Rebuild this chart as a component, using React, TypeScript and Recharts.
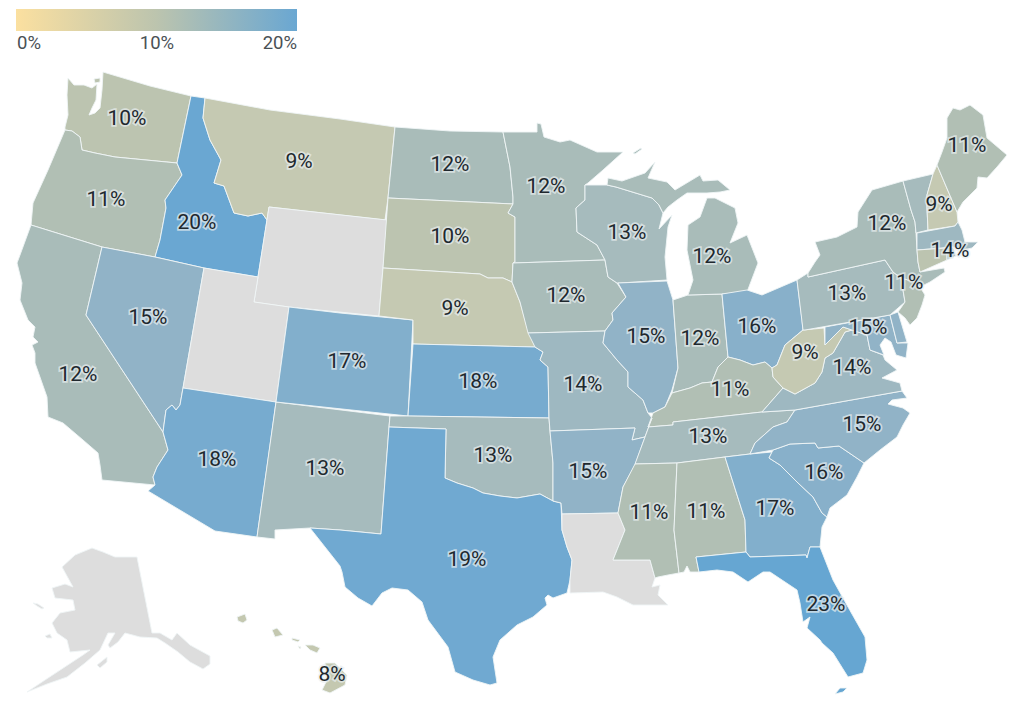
import React from "react";
import { ScatterChart, Scatter, XAxis, YAxis, ReferenceArea } from "recharts";

type Pt = [number, number];

// state outlines, in map units (same grid as the reference picture)
const WA: Pt[] = [[68,78],[74,85],[84,85],[92,88],[97,84],[96,100],[92,108],[89,115],[95,113],[100,108],[102,90],[103,72],[150,86],[191,96],[177,163],[115,157],[95,153],[82,150],[80,137],[72,131],[65,130],[65,127],[68,115],[67,95]];
const WA_ISLAND: Pt[] = [[94,79],[100,78],[100,82],[95,83]];
const OR: Pt[] = [[65,130],[72,131],[80,137],[82,150],[95,153],[115,157],[177,163],[182,175],[165,200],[166,208],[160,240],[155,257],[102,247],[31,225],[33,203],[48,170]];
const CA: Pt[] = [[31,225],[102,247],[86,315],[163,432],[168,450],[157,467],[153,477],[155,485],[102,480],[100,465],[98,453],[83,440],[63,423],[48,417],[47,397],[35,363],[35,353],[32,345],[38,342],[33,337],[35,327],[28,320],[20,300],[22,283],[17,263],[20,255]];
const ID: Pt[] = [[191,96],[205,98],[203,118],[210,140],[221,160],[214,183],[224,186],[234,213],[248,216],[262,213],[267,220],[258,277],[204,268],[155,257],[160,240],[166,208],[165,200],[182,175],[177,163]];
const NV: Pt[] = [[102,247],[155,257],[204,268],[183,388],[180,405],[176,410],[172,405],[166,410],[163,432],[86,315]];
const MT: Pt[] = [[205,98],[270,110],[340,119],[395,127],[388,198],[385,220],[269,207],[267,220],[262,213],[248,216],[234,213],[224,186],[214,183],[221,160],[210,140],[203,118]];
const WY: Pt[] = [[269,207],[387,220],[383,268],[379,316],[289,307],[254,302]];
const UT: Pt[] = [[204,268],[258,277],[254,302],[289,307],[276,402],[183,388]];
const AZ: Pt[] = [[183,388],[276,402],[268,460],[257,537],[215,531],[148,491],[155,485],[153,477],[157,467],[168,450],[163,432],[166,410],[172,405],[176,410],[180,405]];
const NM: Pt[] = [[276,402],[390,416],[389,427],[381,534],[340,530],[310,528],[275,530],[275,539],[257,537]];
const CO: Pt[] = [[289,307],[340,313],[413,320],[408,416],[276,402]];
const ND: Pt[] = [[395,127],[450,131],[503,132],[510,167],[513,197],[513,204],[388,198]];
const SD: Pt[] = [[388,198],[513,204],[508,213],[515,217],[515,262],[513,263],[512,282],[503,278],[488,278],[480,274],[383,268]];
const NE: Pt[] = [[383,268],[480,274],[488,278],[503,278],[512,282],[520,302],[527,327],[535,347],[413,344],[413,320],[379,316]];
const KS: Pt[] = [[413,344],[535,347],[543,352],[540,360],[548,367],[549,418],[408,416]];
const OK: Pt[] = [[390,416],[408,416],[549,418],[550,431],[553,463],[553,501],[540,494],[517,498],[500,496],[483,493],[473,488],[457,483],[445,478],[446,429],[389,427]];
const TX: Pt[] = [[389,427],[446,429],[445,478],[457,483],[473,488],[483,493],[500,496],[517,498],[540,494],[553,501],[561,503],[562,530],[567,547],[572,560],[570,580],[567,593],[553,598],[548,595],[545,598],[547,605],[533,617],[517,625],[500,640],[493,657],[497,683],[490,685],[473,680],[455,672],[448,647],[428,620],[422,602],[408,590],[392,588],[382,593],[372,606],[358,598],[345,587],[342,572],[340,566],[310,528],[340,530],[381,534]];
const MN: Pt[] = [[503,132],[537,132],[537,123],[541,124],[544,137],[560,142],[570,140],[597,152],[623,152],[603,170],[588,183],[585,185],[585,200],[576,208],[577,232],[597,245],[605,260],[513,263],[515,262],[515,217],[508,213],[513,204],[513,197],[510,167]];
const IA: Pt[] = [[513,263],[605,260],[608,277],[617,283],[626,297],[612,313],[613,320],[605,331],[528,333],[520,302],[512,282]];
const MO: Pt[] = [[528,333],[605,331],[603,343],[617,360],[628,372],[628,387],[643,400],[648,413],[652,418],[645,437],[632,440],[635,428],[550,431],[549,418],[548,367],[540,360],[543,352],[535,347]];
const AR: Pt[] = [[550,431],[635,428],[632,440],[645,437],[635,465],[623,487],[618,513],[562,514],[561,503],[553,501],[553,463]];
const LA: Pt[] = [[562,514],[618,513],[625,530],[613,560],[650,560],[655,578],[652,587],[660,585],[658,595],[668,605],[633,605],[617,597],[603,592],[570,593],[570,580],[572,560],[567,547],[562,530]];
const WI: Pt[] = [[585,185],[607,185],[616,187],[652,198],[659,205],[663,213],[659,229],[672,215],[668,227],[665,257],[667,280],[620,283],[617,283],[608,277],[605,260],[597,245],[577,232],[576,208],[585,200]];
const IL: Pt[] = [[618,283],[667,281],[673,300],[678,368],[672,390],[665,407],[653,413],[648,413],[643,400],[628,387],[628,372],[617,360],[603,343],[605,331],[613,320],[612,313],[626,297]];
const IN: Pt[] = [[673,300],[688,295],[722,294],[728,357],[718,367],[712,382],[702,383],[690,388],[672,393],[678,368]];
const MI_LOW: Pt[] = [[688,295],[693,280],[687,250],[688,225],[700,217],[707,198],[715,198],[735,208],[738,223],[730,243],[747,235],[758,263],[747,292],[722,294]];
const MI_UP: Pt[] = [[616,187],[607,185],[608,178],[622,181],[645,173],[655,162],[648,178],[667,182],[675,190],[700,175],[703,181],[718,180],[730,190],[720,192],[707,193],[687,193],[677,200],[668,207],[663,213],[659,205],[652,198]];
const MI_ISLE: Pt[] = [[633,153],[641,148],[642,149],[635,154]];
const OH: Pt[] = [[722,294],[747,290],[762,295],[797,280],[802,320],[803,330],[785,345],[777,365],[772,368],[765,362],[753,365],[740,360],[728,357]];
const KY: Pt[] = [[648,427],[653,413],[665,407],[672,393],[690,388],[702,383],[712,382],[718,367],[728,357],[740,360],[753,365],[765,362],[772,368],[773,377],[783,388],[762,412],[673,422],[673,425]];
const TN: Pt[] = [[652,418],[648,427],[673,425],[673,422],[762,412],[795,410],[787,422],[773,427],[755,443],[750,454],[725,457],[677,463],[635,464],[645,437]];
const MS: Pt[] = [[635,464],[677,463],[674,530],[679,573],[668,575],[658,577],[655,578],[650,560],[613,560],[625,530],[618,513],[623,487]];
const AL: Pt[] = [[677,463],[725,457],[745,520],[746,552],[696,557],[699,572],[690,572],[687,566],[684,572],[679,573],[674,530]];
const GA: Pt[] = [[725,457],[750,454],[772,452],[769,458],[780,465],[797,482],[813,497],[822,513],[827,517],[822,527],[820,547],[810,547],[807,558],[806,555],[750,557],[746,552],[745,520]];
const FL: Pt[] = [[696,557],[746,552],[750,557],[806,555],[807,558],[810,547],[820,547],[833,580],[848,607],[865,637],[867,660],[863,673],[848,677],[833,653],[822,643],[820,640],[807,628],[810,617],[803,622],[800,603],[797,590],[770,572],[763,572],[748,582],[733,572],[717,570],[699,572]];
const FL_KEY: Pt[] = [[835,694],[840,688],[847,688],[843,692]];
const SC: Pt[] = [[769,458],[772,452],[773,450],[790,444],[815,443],[818,448],[839,446],[864,463],[857,477],[847,495],[830,508],[827,517],[822,513],[813,497],[797,482],[780,465]];
const NC: Pt[] = [[795,410],[902,391],[907,398],[892,400],[888,404],[903,408],[910,413],[903,425],[897,437],[880,450],[864,463],[839,446],[818,448],[815,443],[790,444],[773,450],[750,454],[755,443],[773,427],[787,422]];
const VA: Pt[] = [[762,412],[783,388],[795,394],[815,383],[822,372],[825,358],[833,353],[845,332],[852,330],[867,335],[870,350],[883,355],[885,360],[897,370],[882,378],[900,383],[902,391],[795,410]];
const WV: Pt[] = [[803,330],[824,328],[825,345],[843,327],[852,330],[845,332],[833,353],[825,358],[822,372],[815,383],[795,394],[783,388],[773,377],[772,368],[777,365],[785,345]];
const MD: Pt[] = [[825,327],[890,315],[897,343],[908,343],[906,358],[896,355],[891,342],[885,338],[880,345],[884,355],[870,350],[867,335],[852,330],[843,327],[825,345]];
const DE: Pt[] = [[890,315],[898,312],[907,342],[897,343]];
const PA: Pt[] = [[797,280],[808,273],[808,277],[885,260],[893,272],[901,278],[903,290],[905,302],[890,315],[805,330],[803,330]];
const NJ: Pt[] = [[901,278],[908,280],[915,282],[920,287],[925,295],[922,305],[917,318],[910,325],[905,318],[898,312],[905,302],[903,290]];
const NY: Pt[] = [[808,273],[815,262],[820,255],[815,242],[837,237],[857,227],[858,212],[872,190],[903,181],[911,210],[915,222],[916,233],[917,250],[918,262],[920,272],[944,268],[945,272],[930,282],[920,287],[915,282],[908,280],[901,278],[893,272],[885,260],[808,277]];
const VT: Pt[] = [[903,181],[933,174],[927,195],[927,208],[928,230],[916,233],[915,222],[911,210]];
const NH: Pt[] = [[933,174],[937,165],[957,212],[958,222],[955,226],[928,230],[927,208],[927,195]];
const ME: Pt[] = [[937,165],[942,152],[947,138],[947,118],[953,108],[960,110],[970,105],[983,115],[987,138],[1007,155],[997,167],[987,178],[978,177],[977,188],[963,202],[957,212]];
const MA: Pt[] = [[917,233],[955,226],[958,222],[962,230],[965,242],[978,242],[972,248],[963,250],[953,247],[917,250]];
const CT: Pt[] = [[917,250],[947,248],[947,260],[920,272],[918,262]];
const RI: Pt[] = [[947,248],[953,247],[956,256],[947,260]];
const AK: Pt[] = [[92,548],[103,552],[115,557],[137,557],[152,633],[160,633],[172,640],[177,633],[190,645],[210,656],[210,664],[203,669],[190,662],[178,652],[165,643],[157,638],[140,637],[125,633],[118,642],[110,648],[108,645],[115,633],[108,633],[100,650],[85,663],[67,677],[47,684],[27,692],[45,680],[83,655],[90,650],[70,652],[67,640],[57,633],[52,623],[60,613],[75,610],[73,600],[55,598],[52,588],[65,584],[73,587],[62,567],[75,555]];
const AK_KODIAK: Pt[] = [[97,665],[107,657],[107,662],[100,668]];
const AK_NUNIVAK: Pt[] = [[45,636],[50,634],[52,638],[47,638]];
const AK_LAWRENCE: Pt[] = [[33,603],[38,604],[44,608],[42,609],[37,606]];
const HI_KAUAI: Pt[] = [[237,617],[245,614],[247,620],[243,623],[238,621]];
const HI_OAHU: Pt[] = [[272,630],[277,628],[283,635],[275,637]];
const HI_MOLOKAI: Pt[] = [[292,638],[300,640],[298,642],[292,640]];
const HI_LANAI: Pt[] = [[298,646],[301,647],[300,649]];
const HI_MAUI: Pt[] = [[305,645],[313,645],[320,648],[317,653],[310,650]];
const HI_BIG: Pt[] = [[325,663],[335,663],[347,675],[345,685],[330,693],[322,690],[327,680]];

// percent per state, null = no data
const shares: Record<string, number | null> = {
  WA: 10, OR: 11, CA: 12, ID: 20, NV: 15, MT: 9, WY: null, UT: null, AZ: 18, NM: 13, CO: 17,
  ND: 12, SD: 10, NE: 9, KS: 18, OK: 13, TX: 19, MN: 12, IA: 12, MO: 14, AR: 15, LA: null,
  WI: 13, IL: 15, IN: 12, MI: 12, OH: 16, KY: 11, TN: 13, MS: 11, AL: 11, GA: 17, FL: 23,
  SC: 16, NC: 15, VA: 14, WV: 9, MD: 15, DE: 15, PA: 13, NJ: 11, NY: 12, VT: 13, NH: 9,
  ME: 11, MA: 14, CT: 10, RI: 14, AK: null, HI: 8,
};

const shapes: [string, Pt[]][] = [
  ["WA", WA], ["WA", WA_ISLAND], ["OR", OR], ["CA", CA], ["ID", ID], ["NV", NV], ["MT", MT], ["WY", WY], ["UT", UT],
  ["AZ", AZ], ["NM", NM], ["CO", CO], ["ND", ND], ["SD", SD], ["NE", NE], ["KS", KS], ["OK", OK],
  ["TX", TX], ["MN", MN], ["IA", IA], ["MO", MO], ["AR", AR], ["LA", LA], ["WI", WI], ["IL", IL],
  ["IN", IN], ["MI", MI_LOW], ["MI", MI_UP], ["MI", MI_ISLE], ["OH", OH], ["KY", KY], ["TN", TN], ["MS", MS], ["AL", AL],
  ["GA", GA], ["FL", FL], ["FL", FL_KEY], ["SC", SC], ["NC", NC], ["VA", VA], ["WV", WV], ["MD", MD],
  ["DE", DE], ["PA", PA], ["NJ", NJ], ["NY", NY], ["VT", VT], ["NH", NH], ["ME", ME], ["MA", MA],
  ["CT", CT], ["RI", RI], ["AK", AK], ["AK", AK_KODIAK], ["AK", AK_NUNIVAK], ["AK", AK_LAWRENCE],
  ["HI", HI_KAUAI], ["HI", HI_OAHU], ["HI", HI_MOLOKAI], ["HI", HI_LANAI], ["HI", HI_MAUI], ["HI", HI_BIG],
];

// where each state's number sits
const labelStates = ["WA","OR","CA","ID","NV","MT","AZ","CO","NM","ND","SD","NE","KS","OK","TX","MN","IA","MO","AR","WI","IL","MI","IN","OH","KY","TN","MS","AL","GA","FL","SC","NC","VA","WV","PA","NY","ME","NH","MA","NJ","MD","HI"];
const labelX = [127,106,78,197,148,299,217,347,325,450,450,455,478,493,467,546,566,583,588,627,646,712,700,757,730,708,649,706,775,826,824,862,852,805,847,887,967,939,950,904,868,332];
const labelY = [118,199,374,222,317,161,459,361,468,164,236,308,381,455,559,186,295,384,471,232,336,256,338,326,389,436,512,511,508,604,472,424,367,352,293,223,145,204,250,282,327,674];

const legendTicks = ["0%", "10%", "20%"];
const legendTickX = [17, 157, 297];
const legendTickY = [43, 43, 43];

const shadeOf: Record<number, string> = {
  8: "#c4c8b0", 9: "#c5c9b2", 10: "#bcc4b0", 11: "#b1bfb4", 12: "#a9bcb9", 13: "#a6bbbd", 14: "#9eb8c1",
  15: "#91b3c7", 16: "#88b0ca", 17: "#82afcc", 18: "#77abcf", 19: "#70a9d1", 20: "#6aa7d2", 23: "#66a6d2",
};
const noData = "#dddddd";

const toRows = (pts: Pt[]) => pts.map(([x, y]) => ({ x, y }));
const labelRows = labelStates.map((id, i) => ({ x: labelX[i], y: labelY[i], text: `${shares[id]}%` }));
const legendRows = legendTicks.map((text, i) => ({ x: legendTickX[i], y: legendTickY[i], text }));

const noDot = () => <g />;

// Scatter hands its line the scaled points, closing them gives the state's area
const outline = (fill: string) => (props: any) => {
  const d = props.points.map((p: any, i: number) => `${i ? "L" : "M"}${p.x},${p.y}`).join("") + "Z";
  return <path d={d} fill={fill} stroke="#eff5f6" strokeWidth={0.9} strokeLinejoin="round" />;
};

const StateLabel = (props: any) => (
  <text
    x={props.cx}
    y={props.cy}
    textAnchor="middle"
    dominantBaseline="central"
    fontFamily="Roboto"
    fontSize={21}
    fill="#20282e"
    stroke="rgba(232,238,240,0.7)"
    strokeWidth={3.5}
    paintOrder="stroke"
  >
    {props.payload.text}
  </text>
);

const LegendLabel = (props: any) => {
  const anchor = props.payload.text === "0%" ? "start" : props.payload.text === "20%" ? "end" : "middle";
  return (
    <text x={props.cx} y={props.cy} textAnchor={anchor} dominantBaseline="central" fontFamily="Roboto" fontSize={18.5} fill="#4a5155">
      {props.payload.text}
    </text>
  );
};

const App = () => {
  return (
    <div style={{ position: "absolute", left: 0, top: 0, width: 1024, height: 710, background: "#fff" }}>
      <ScatterChart width={1024} height={710} margin={{ top: 0, right: 0, bottom: 0, left: 0 }}>
        <defs>
          <linearGradient id="legendRamp" x1="0" y1="0" x2="1" y2="0">
            <stop offset="0%" stopColor="#fbe0a0" />
            <stop offset="50%" stopColor="#bcc4ae" />
            <stop offset="100%" stopColor="#6aa7d2" />
          </linearGradient>
        </defs>
        <XAxis type="number" dataKey="x" domain={[0, 1024]} hide />
        <YAxis type="number" dataKey="y" domain={[0, 710]} reversed hide />
        <ReferenceArea x1={16} x2={297} y1={9} y2={31} fill="url(#legendRamp)" fillOpacity={1} stroke="none" />
        {shapes.map(([id, pts], i) => {
          const v = shares[id];
          return (
            <Scatter
              key={id + i}
              data={toRows(pts)}
              line={outline(v === null ? noData : shadeOf[v])}
              shape={noDot}
              isAnimationActive={false}
            />
          );
        })}
        <Scatter data={labelRows} shape={StateLabel} isAnimationActive={false} />
        <Scatter data={legendRows} shape={LegendLabel} isAnimationActive={false} />
      </ScatterChart>
    </div>
  );
};

export default App;
